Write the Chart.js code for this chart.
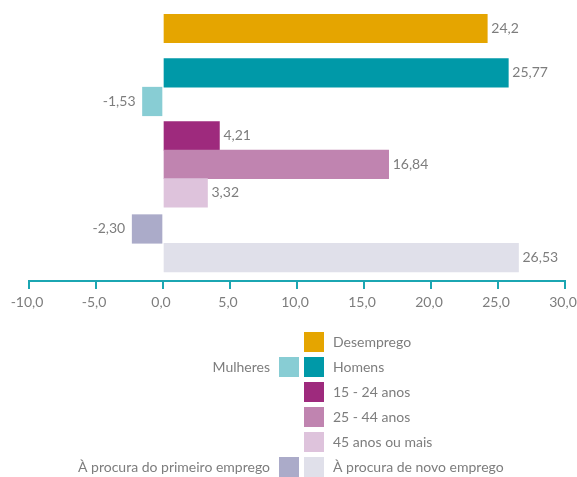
<!DOCTYPE html>
<html>
<head>
<meta charset="utf-8">
<script src="https://cdn.jsdelivr.net/npm/chart.js@4.4.1/dist/chart.umd.min.js"></script>
<style>
    html, body { margin: 0; padding: 0; background: #fff; }
    #wrap { width: 577px; height: 477px; position: relative; }
</style>
</head>
<body>
<div id="wrap"><canvas id="chart"></canvas></div>
<script>
// Data
const categories = ['Desemprego', 'Homens', 'Mulheres', '15 - 24 anos', '25 - 44 anos', '45 anos ou mais', 'À procura do primeiro emprego', 'À procura de novo emprego'];
const values = [24.2, 25.77, -1.53, 4.21, 16.84, 3.32, -2.30, 26.53];
const valueLabels = ['24,2', '25,77', '-1,53', '4,21', '16,84', '3,32', '-2,30', '26,53'];
const groups = [[0], [1, 2], [3, 4, 5], [6, 7]];
const xTicks = [-10, -5, 0, 5, 10, 15, 20, 25, 30];

const colors = ['#E5A500', '#0099A8', '#88CDD4', '#9E2A7D', '#C084B0', '#DEC3DC', '#ABABC9', '#E0E0EA'];
const groupGaps = [0.56, 0.2, 0.26];   // space between groups, in bar heights
const textColor = '#7d7d7d';
const axisColor = '#1BA6B2';
const fontFamily = 'Lato, "Open Sans", sans-serif';

// row position of each bar along the index axis
const rowPos = [];
let pos = 0;
groups.forEach((g, gi) => {
    if (gi > 0) pos += groupGaps[gi - 1];
    g.forEach(i => { rowPos[i] = pos; pos += 1; });
});

const points = values.map((v, i) => ({ x: v, y: rowPos[i] }));

const valueLabelPlugin = {
    id: 'valueLabels',
    afterDatasetsDraw(chart) {
        const ctx = chart.ctx;
        const meta = chart.getDatasetMeta(0);
        ctx.save();
        ctx.font = '14px ' + fontFamily;
        ctx.fillStyle = textColor;
        ctx.textBaseline = 'middle';
        meta.data.forEach((bar, i) => {
            if (values[i] >= 0) {
                ctx.textAlign = 'left';
                ctx.fillText(valueLabels[i], bar.x + 4, bar.y);
            } else {
                ctx.textAlign = 'right';
                ctx.fillText(valueLabels[i], bar.x - 7, bar.y);
            }
        });
        ctx.restore();
    }
};

// legend: right column of swatches, left column for the negative-side series
const legendPlugin = {
    id: 'customLegend',
    afterDraw(chart) {
        const ctx = chart.ctx;
        const rows = [[null, 0], [2, 1], [null, 3], [null, 4], [null, 5], [6, 7]];
        const top = 332, step = 25, sw = 20;
        const rightX = 304, leftX = 279;
        ctx.save();
        ctx.font = '14px ' + fontFamily;
        ctx.textBaseline = 'middle';
        rows.forEach((r, ri) => {
            const y = top + ri * step;
            const [left, right] = r;
            ctx.fillStyle = colors[right];
            ctx.fillRect(rightX, y, sw, sw);
            ctx.fillStyle = textColor;
            ctx.textAlign = 'left';
            ctx.fillText(categories[right], rightX + sw + 9, y + sw / 2);
            if (left !== null) {
                ctx.fillStyle = colors[left];
                ctx.fillRect(leftX, y, sw, sw);
                ctx.fillStyle = textColor;
                ctx.textAlign = 'right';
                ctx.fillText(categories[left], leftX - 9, y + sw / 2);
            }
        });
        ctx.restore();
    }
};

new Chart(document.getElementById('chart'), {
    type: 'bar',
    data: {
        datasets: [{
            data: points,
            backgroundColor: colors,
            borderWidth: 0,
            barPercentage: 1,
            categoryPercentage: 1
        }]
    },
    options: {
        indexAxis: 'y',
        responsive: true,
        maintainAspectRatio: false,
        animation: false,
        layout: { padding: { top: 14, left: 29, right: 12, bottom: 0 } },
        plugins: {
            legend: { display: false },
            tooltip: { enabled: false }
        },
        scales: {
            y: {
                type: 'linear',
                reverse: true,
                min: -0.5,
                max: 8.84,
                display: false,
                afterBuildTicks(scale) {
                    scale.ticks = [];
                }
            },
            x: {
                type: 'linear',
                min: -10,
                max: 30,
                afterBuildTicks(scale) {
                    scale.ticks = xTicks.map(v => ({ value: v }));
                },
                afterFit(scale) {
                    scale.height = 196;
                    scale.paddingLeft = 0;
                    scale.paddingRight = 0;
                },
                border: { display: true, color: axisColor, width: 2 },
                grid: {
                    drawOnChartArea: false,
                    drawTicks: true,
                    tickLength: 8,
                    color: axisColor,
                    lineWidth: 2
                },
                ticks: {
                    color: textColor,
                    font: { family: fontFamily, size: 14 },
                    padding: 5,
                    labelOffset: -2,
                    maxRotation: 0,
                    callback: v => v.toFixed(1).replace('.', ',')
                }
            }
        }
    },
    plugins: [valueLabelPlugin, legendPlugin]
});
</script>
</body>
</html>
